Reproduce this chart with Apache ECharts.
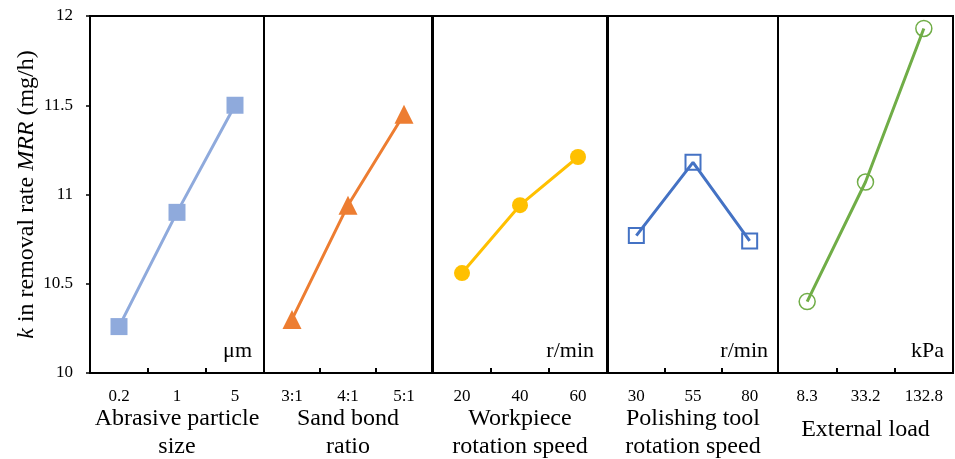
<!DOCTYPE html>
<html><head><meta charset="utf-8">
<script src="https://cdn.jsdelivr.net/npm/echarts@6/dist/echarts.min.js"></script>
<style>html,body{margin:0;padding:0;background:#fff}#c{width:955px;height:459px}</style>
</head><body><div id="c"></div>
<script>
const catSize = ['0.2', '1', '5'];
const catRatio = ['3:1', '4:1', '5:1'];
const catWork = ['20', '40', '60'];
const catTool = ['30', '55', '80'];
const catLoad = ['8.3', '33.2', '132.8'];

const valSize = [10.26, 10.90, 11.50];
const valRatio = [10.30, 10.94, 11.45];
const valWork = [10.56, 10.94, 11.21];
const valTool = [10.77, 11.18, 10.74];
const valLoad = [10.40, 11.07, 11.93];

const axisNames = ['Abrasive particle\nsize', 'Sand bond\nratio', 'Workpiece\nrotation speed', 'Polishing tool\nrotation speed', 'External load'];
const units = ['μm', '', 'r/min', 'r/min', 'kPa'];
const yTicks = { min: 10, max: 12, interval: 0.5 };

const cats = [catSize, catRatio, catWork, catTool, catLoad];
const vals = [valSize, valRatio, valWork, valTool, valLoad];

const FONT = "'Liberation Serif','Times New Roman',serif";
const panels = [
  { left: 90, width: 174 },
  { left: 264, width: 168 },
  { left: 433, width: 174 },
  { left: 608, width: 170 },
  { left: 778, width: 175 }
];
const TOP = 16, H = 357;
const styles = [
  { symbol: 'rect', size: 17, color: '#8faadc', fill: '#8faadc', lw: 3, bw: 0 },
  { symbol: 'triangle', size: 19, color: '#ed7d31', fill: '#ed7d31', lw: 3, bw: 0 },
  { symbol: 'circle', size: 16, color: '#ffc000', fill: '#ffc000', lw: 3, bw: 0 },
  { symbol: 'rect', size: 15, color: '#4472c4', fill: 'rgba(255,255,255,0)', lw: 3, bw: 2 },
  { symbol: 'circle', size: 16, color: '#70ad47', fill: 'rgba(255,255,255,0)', lw: 3, bw: 1.5 }
];
const nameGaps = [32, 32, 32, 32, 43];
const unitInset = [12, 0, 13, 10, 9];

const chart = echarts.init(document.getElementById('c'));
const option = {
  animation: false,
  grid: panels.map(p => ({ left: p.left, width: p.width, top: TOP, height: H, containLabel: false, outerBoundsMode: 'none', show: true, borderColor: '#000', borderWidth: 2, backgroundColor: 'transparent' })),
  xAxis: panels.map((p, i) => ({
    type: 'category', gridIndex: i, data: cats[i], boundaryGap: true,
    axisLine: { show: false },
    axisTick: { show: true, inside: true, length: 5, lineStyle: { color: '#000', width: 2 } },
    axisLabel: { color: '#000', fontFamily: FONT, fontSize: 17, margin: 15 },
    name: axisNames[i], nameLocation: 'middle', nameGap: nameGaps[i], nameMoveOverlap: false,
    nameTextStyle: { color: '#000', fontFamily: FONT, fontSize: 24, lineHeight: 28 }
  })),
  yAxis: panels.map((p, i) => ({
    type: 'value', gridIndex: i, min: yTicks.min, max: yTicks.max, interval: yTicks.interval,
    splitLine: { show: false },
    axisLine: { show: false },
    axisTick: { show: i === 0, inside: false, length: 4, lineStyle: { color: '#000', width: 1.5 } },
    axisLabel: { show: i === 0, color: '#000', fontFamily: FONT, fontSize: 17, margin: 17 },
    name: i === 0 ? '{i|k} in removal rate {i|MRR} (mg/h)' : '',
    nameLocation: 'middle', nameGap: 51, nameRotate: 90, nameMoveOverlap: false,
    nameTextStyle: { color: '#000', fontFamily: FONT, fontSize: 24, rich: { i: { fontStyle: 'italic', fontFamily: FONT, fontSize: 24, color: '#000' } } }
  })),
  series: panels.map((p, i) => ({
    type: 'line', xAxisIndex: i, yAxisIndex: i, data: vals[i],
    symbol: styles[i].symbol, symbolSize: styles[i].size, showAllSymbol: true,
    lineStyle: { color: styles[i].color, width: styles[i].lw },
    itemStyle: { color: styles[i].fill, borderColor: styles[i].color, borderWidth: styles[i].bw },
    z: 3
  })),
  graphic: panels.map((p, i) => ({
    type: 'text', right: 955 - (p.left + p.width) + unitInset[i], top: 340,
    style: { text: units[i], font: '22px ' + FONT, fill: '#000' }
  }))
};
chart.setOption(option);
</script></body></html>
